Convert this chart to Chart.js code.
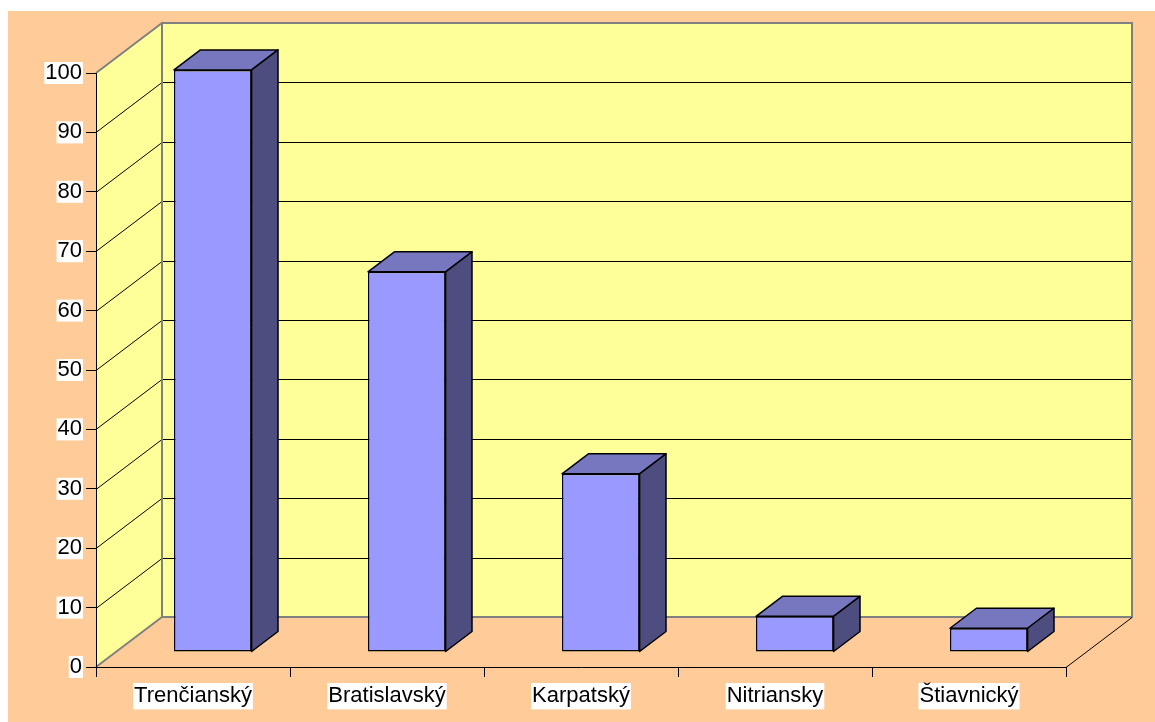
<!DOCTYPE html>
<html>
<head>
<meta charset="utf-8">
<script src="https://cdn.jsdelivr.net/npm/chart.js@4/dist/chart.umd.min.js"></script>
<style>
  html, body { margin: 0; padding: 0; background: #ffffff; }
  canvas { display: block; }
</style>
</head>
<body>
<canvas id="chart" width="1155" height="722"></canvas>
<script>
// Regions and their values
const categories = ['Trenčianský', 'Bratislavský', 'Karpatský', 'Nitriansky', 'Štiavnický'];
const values = [98, 64, 30, 6, 4];

// Value axis range and tick step
const yMin = 0;
const yMax = 100;
const yStep = 10;

// Colours
const PAGE_BG = '#FFCC99';
const WALL = '#FFFF99';
const EDGE = '#808080';
const BAR_FRONT = '#9999FF';
const BAR_TOP = '#7777C0';
const BAR_SIDE = '#4D4D80';

// Oblique projection of the room: offset of the back wall from the front plane
const WALL_DX = 66;
const WALL_DY = -50;
// Bars sit part way into the room and have a fixed depth (fractions of the room depth)
const BAR_Z = 0.3;
const BAR_D = 0.4;

const FONT = '"Liberation Sans", Arial, Helvetica, sans-serif';

const room3d = {
  id: 'room3d',
  beforeDraw(chart) {
    const ctx = chart.ctx;
    const xs = chart.scales.x, ys = chart.scales.y;
    const L = xs.left, R = xs.right;
    const yb = ys.getPixelForValue(yMin);
    const yt = ys.getPixelForValue(yMax);

    ctx.save();
    // page background
    ctx.fillStyle = PAGE_BG;
    ctx.fillRect(8, 11, chart.width - 8, chart.height - 11);

    // left side wall
    ctx.fillStyle = WALL;
    ctx.beginPath();
    ctx.moveTo(L, yb);
    ctx.lineTo(L, yt);
    ctx.lineTo(L + WALL_DX, yt + WALL_DY);
    ctx.lineTo(L + WALL_DX, yb + WALL_DY);
    ctx.closePath();
    ctx.fill();

    // back wall
    ctx.fillRect(L + WALL_DX, yt + WALL_DY, R - L, yb - yt);

    // gridlines running along the side wall and across the back wall
    ctx.strokeStyle = '#000000';
    ctx.lineWidth = 1;
    for (let v = yMin + yStep; v < yMax; v += yStep) {
      const y = Math.round(ys.getPixelForValue(v)) + 0.5;
      ctx.beginPath();
      ctx.moveTo(L, y);
      ctx.lineTo(L + WALL_DX, y + WALL_DY);
      ctx.lineTo(R + WALL_DX, y + WALL_DY);
      ctx.stroke();
    }

    // wall and floor edges
    ctx.strokeStyle = EDGE;
    ctx.lineWidth = 2;
    ctx.beginPath();
    ctx.moveTo(L, yt);
    ctx.lineTo(L + WALL_DX, yt + WALL_DY);
    ctx.moveTo(L, yb);
    ctx.lineTo(L + WALL_DX, yb + WALL_DY);
    ctx.stroke();
    ctx.strokeRect(L + WALL_DX, yt + WALL_DY, R - L, yb - yt);

    // front right edge of the floor
    ctx.strokeStyle = '#000000';
    ctx.lineWidth = 1;
    ctx.beginPath();
    ctx.moveTo(R, yb + 0.5);
    ctx.lineTo(R + WALL_DX, yb + WALL_DY + 0.5);
    ctx.stroke();
    ctx.restore();
  },
  beforeDatasetsDraw(chart) {
    // front faces are drawn by the bar controller, pushed into the room
    chart.ctx.save();
    chart.ctx.translate(WALL_DX * BAR_Z, WALL_DY * BAR_Z);
  },
  afterDatasetsDraw(chart) {
    const ctx = chart.ctx;
    ctx.restore();
    const fx = WALL_DX * BAR_Z, fy = WALL_DY * BAR_Z;
    const bx = WALL_DX * BAR_D, by = WALL_DY * BAR_D;
    const meta = chart.getDatasetMeta(0);
    ctx.save();
    ctx.strokeStyle = '#000000';
    ctx.lineWidth = 1.5;
    ctx.lineJoin = 'round';
    meta.data.forEach((bar) => {
      const p = bar.getProps(['x', 'y', 'base', 'width'], true);
      const left = p.x - p.width / 2 + fx;
      const right = p.x + p.width / 2 + fx;
      const top = Math.min(p.y, p.base) + fy;
      const bottom = Math.max(p.y, p.base) + fy;

      // top face
      ctx.fillStyle = BAR_TOP;
      ctx.beginPath();
      ctx.moveTo(left, top);
      ctx.lineTo(left + bx, top + by);
      ctx.lineTo(right + bx, top + by);
      ctx.lineTo(right, top);
      ctx.closePath();
      ctx.fill();
      ctx.stroke();

      // right side face
      ctx.fillStyle = BAR_SIDE;
      ctx.beginPath();
      ctx.moveTo(right, top);
      ctx.lineTo(right + bx, top + by);
      ctx.lineTo(right + bx, bottom + by);
      ctx.lineTo(right, bottom);
      ctx.closePath();
      ctx.fill();
      ctx.stroke();
    });
    ctx.restore();
  }
};

new Chart(document.getElementById('chart'), {
  type: 'bar',
  data: {
    labels: categories,
    datasets: [{
      data: values,
      backgroundColor: BAR_FRONT,
      borderColor: '#000000',
      borderWidth: 1.5,
      borderSkipped: false,
      barPercentage: 0.4,
      categoryPercentage: 1.0,
      clip: false
    }]
  },
  options: {
    responsive: false,
    animation: false,
    devicePixelRatio: 1,
    layout: { padding: { top: 73, right: 89, left: 0, bottom: 0 } },
    plugins: {
      legend: { display: false },
      tooltip: { enabled: false },
      title: { display: false }
    },
    scales: {
      x: {
        afterFit(scale) { scale.height = 55; },
        grid: {
          display: true,
          drawOnChartArea: false,
          drawTicks: true,
          tickLength: 10,
          color: '#000000',
          offset: true
        },
        border: { display: true, color: '#000000', width: 1 },
        ticks: {
          color: '#000000',
          padding: 6,
          font: { family: FONT, size: 22, lineHeight: 1.2 },
          showLabelBackdrop: true,
          backdropColor: '#FFFFFF',
          backdropPadding: { top: 0, bottom: 0, left: 1, right: 1 },
          maxRotation: 0,
          autoSkip: false
        }
      },
      y: {
        min: yMin,
        max: yMax,
        afterFit(scale) { scale.width = 96; },
        grid: {
          display: true,
          drawOnChartArea: false,
          drawTicks: true,
          tickLength: 10,
          color: '#000000'
        },
        border: { display: true, color: '#000000', width: 1 },
        ticks: {
          stepSize: yStep,
          color: '#000000',
          padding: 4,
          font: { family: FONT, size: 22, lineHeight: 1.0 },
          showLabelBackdrop: true,
          backdropColor: '#FFFFFF',
          backdropPadding: { top: 0, bottom: 0, left: 1, right: 1 }
        }
      }
    }
  },
  plugins: [room3d]
});
</script>
</body>
</html>
